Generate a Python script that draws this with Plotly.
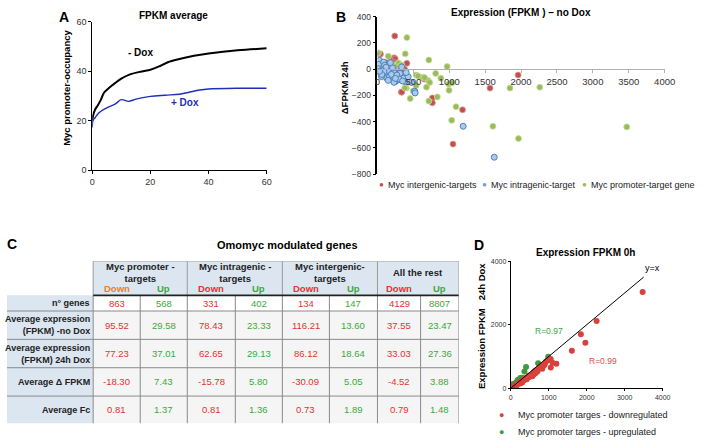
import plotly.graph_objects as go

W, H = 709, 448
FONT = "Arial, Liberation Sans, sans-serif"

# ---------------- Panel A data ----------------
a_x = [0, 0.3, 1, 2, 3, 4, 5, 7, 10, 13, 17, 20, 23, 26, 30, 35, 40, 50, 60]
a_minus = [20, 22, 24.5, 26.3, 28.5, 31.2, 32.4, 34.4, 37, 38.7, 39.9, 40.6, 41.9, 43.6, 44.9, 46.2, 47.1, 48.4, 49.2]
a_x_plus = [0, 0.3, 1, 2, 3, 5, 8, 10, 12.5, 15, 20, 25, 30, 33, 37, 40, 50, 60]
a_plus = [17.3, 20.2, 21.2, 22.8, 23.8, 25.2, 26.8, 28.5, 27.8, 28.7, 29.8, 30.3, 30.7, 31.4, 32.4, 32.8, 33.1, 33.1]

# ---------------- Panel B data (FPKM no Dox, delta FPKM 24h) ----------------
b_inter_x = [241, 36, 232, 196, 410, 333, 128, 287, 378, 355, 273, 378, 333, 765, 765, 1185, 1052, 1567, 1959, 651,
             41, 246, 223, 337, 346, 150, 90, 180, 300, 260]
b_inter_y = [253, 112, 87, 67, 45, 30, 50, 12, 0, -37, -37, -50, -174, -219, -256, -310, -571, -144, -45, -75,
             116, 79, 54, -175, -7, 40, 20, -30, -20, 5]
b_promo_x = [410, 387, 14, 150, 715, 970, 811, 538, 538, 620, 706, 993, 1038, 997, 683, 834, 715, 456, 497, 401,
             1094, 1034, 1608, 1964, 1845, 2260, 3472, 291, 337, 200, 564, 655, 883, 728, 519, 382, 337, 250, 120, 60]
b_promo_y = [241, 117, 124, 99, 70, 20, -32, -45, -124, -62, -87, -112, -104, -161, -137, -211, -243, -224, -166, -144,
             -286, -390, -435, -529, -144, -137, -440, 47, 30, 42, -52, -64, -69, -101, -180, -143, -57, 20, -20, -60]
b_intra_x = [27, 41, 18, 86, 64, 109, 155, 177, 223, 268, 246, 314, 359, 382, 428, 473, 519, 132, 200, 291,
             337, 41, 100, 10, 55, 75, 140, 165, 195, 230, 270, 300, 350, 400, 120, 90, 60, 30, 250, 210,
             1194, 1627, 524, 180, 150]
b_intra_y = [67, 17, 37, 54, -7, -32, 5, -44, -20, -57, -94, -32, -69, -94, -57, -101, -168, -69, -81, -81,
             17, -32, 30, 5, -55, -30, -10, -60, -40, -100, -45, -75, -90, -25, 15, -20, -40, -15, -70, 10,
             -435, -671, -181, 50, -85]

# ---------------- Panel C data ----------------
c_groups = ["Myc promoter -<br>targets", "Myc intragenic -<br>targets", "Myc intergenic-<br>targets", "All the rest"]
c_sub = ["Down", "Up"]
c_rows = ["n° genes", "Average expression<br>(FPKM) -no Dox", "Average expression<br>(FPKM) 24h Dox",
          "Average Δ FPKM", "Average Fc"]
c_values = [
    ["863", "568", "331", "402", "134", "147", "4129", "8807"],
    ["95.52", "29.58", "78.43", "23.33", "116.21", "13.60", "37.55", "23.47"],
    ["77.23", "37.01", "62.65", "29.13", "86.12", "18.64", "33.03", "27.36"],
    ["-18.30", "7.43", "-15.78", "5.80", "-30.09", "5.05", "-4.52", "3.88"],
    ["0.81", "1.37", "0.81", "1.36", "0.73", "1.89", "0.79", "1.48"],
]

# ---------------- Panel D data (FPKM 0h, FPKM 24h Dox) ----------------
d_down_x = [20, 40, 60, 80, 100, 120, 150, 180, 200, 220, 250, 280, 300, 330, 350, 380, 400, 420, 450, 480,
            500, 540, 570, 600, 650, 700, 720, 760, 800, 830, 880, 930, 970, 1000, 1050, 1053, 1100, 1200,
            1608, 1845, 1964, 2260, 3472, 250, 300, 350, 150, 420, 480, 600, 650, 900]
d_down_y = [15, 30, 45, 60, 75, 95, 110, 140, 150, 170, 200, 220, 230, 270, 280, 300, 320, 330, 360, 390,
            400, 420, 380, 500, 560, 530, 600, 650, 700, 615, 720, 840, 880, 900, 920, 656, 800, 770,
            1180, 1700, 1435, 2120, 3030, 150, 180, 250, 80, 280, 350, 430, 470, 780]
d_up_x = [20, 50, 80, 100, 130, 160, 200, 250, 300, 360, 402, 720, 985, 150, 60, 30, 250, 180]
d_up_y = [30, 70, 110, 140, 170, 200, 240, 280, 330, 530, 667, 790, 995, 180, 130, 60, 320, 260]
d_line = [0, 3500]

# ---------------- helpers ----------------
def px_x(p):
    return p / W

def px_y(p):
    return 1 - p / H

fig = go.Figure()

# Panel A lines
fig.add_trace(go.Scatter(x=a_x, y=a_minus, mode="lines", line=dict(color="black", width=2, shape="spline"),
                         xaxis="x", yaxis="y", showlegend=False, hoverinfo="skip"))
fig.add_trace(go.Scatter(x=a_x_plus, y=a_plus, mode="lines", line=dict(color="#1f2fb5", width=1.4, shape="spline"),
                         xaxis="x", yaxis="y", showlegend=False, hoverinfo="skip"))

# Panel B scatter
fig.add_trace(go.Scatter(x=b_inter_x, y=b_inter_y, mode="markers", xaxis="x2", yaxis="y2", showlegend=False,
                         marker=dict(size=6, color="#c0504d", line=dict(color="#dc9b99", width=0.8))))
fig.add_trace(go.Scatter(x=b_promo_x, y=b_promo_y, mode="markers", xaxis="x2", yaxis="y2", showlegend=False,
                         marker=dict(size=6, color="#9bbb59", line=dict(color="#c7dc9f", width=0.8))))
fig.add_trace(go.Scatter(x=b_intra_x, y=b_intra_y, mode="markers", xaxis="x2", yaxis="y2", showlegend=False,
                         marker=dict(size=6, color="#a9cbeb", line=dict(color="#4f81bd", width=1))))

# Panel D
fig.add_trace(go.Scatter(x=d_up_x, y=d_up_y, mode="markers", xaxis="x3", yaxis="y3", showlegend=False,
                         marker=dict(size=6, color="#3f9a3f")))
fig.add_trace(go.Scatter(x=d_down_x, y=d_down_y, mode="markers", xaxis="x3", yaxis="y3", showlegend=False,
                         marker=dict(size=6, color="#d9413c")))
fig.add_trace(go.Scatter(x=d_line, y=d_line, mode="lines", xaxis="x3", yaxis="y3", showlegend=False,
                         line=dict(color="black", width=1)))

# Table axis (invisible)
fig.add_trace(go.Scatter(x=[0, 461], y=[0, 166], mode="markers", marker=dict(opacity=0), xaxis="x4", yaxis="y4",
                         showlegend=False, hoverinfo="skip"))

tick_font = dict(family=FONT, size=9, color="#333333")
axis_common = dict(showgrid=False, zeroline=False, showline=True, linecolor="black", ticks="outside",
                   ticklen=3, tickcolor="black", tickfont=tick_font)

b_ydom = [px_y(173), px_y(12)]
b_xpos = b_ydom[0] + (800 / 1200) * (b_ydom[1] - b_ydom[0])

fig.update_layout(
    width=W, height=H, margin=dict(l=0, r=0, t=0, b=0),
    paper_bgcolor="white", plot_bgcolor="rgba(0,0,0,0)",
    font=dict(family=FONT, color="black"),
    xaxis=dict(domain=[px_x(91), px_x(269)], range=[0, 60], tickvals=[0, 20, 40, 60], anchor="y",
               **axis_common),
    yaxis=dict(domain=[px_y(169), px_y(17)], range=[0, 60], tickvals=[0, 20, 40, 60], anchor="x",
               **axis_common),
    xaxis2=dict(domain=[px_x(382), px_x(675)], range=[0, 4000], dtick=500, anchor="free", position=b_xpos,
                showgrid=False, zeroline=False, showline=True, linecolor="#b0b0b0", ticks="outside",
                ticklen=3, tickcolor="#b0b0b0", tickfont=dict(family=FONT, size=9.5, color="#333333")),
    yaxis2=dict(domain=b_ydom, range=[-800, 400], dtick=200, anchor="x2",
                showgrid=False, zeroline=False, showline=True, linecolor="black", linewidth=1.5,
                ticks="outside", ticklen=3, tickcolor="black",
                tickfont=dict(family=FONT, size=8.5, color="#333333")),
    xaxis3=dict(domain=[px_x(518), px_x(673)], range=[0, 4000], dtick=1000, anchor="y3",
                showgrid=False, zeroline=False, showline=True, linecolor="black", ticks="outside",
                ticklen=2, tickcolor="black", tickfont=dict(family=FONT, size=7, color="#333333")),
    yaxis3=dict(domain=[px_y(392), px_y(262)], range=[0, 4000], tickvals=[0, 2000, 4000], anchor="x3",
                showgrid=False, zeroline=False, showline=True, linecolor="black", ticks="outside",
                ticklen=2, tickcolor="black", tickfont=dict(family=FONT, size=7, color="#333333")),
    xaxis4=dict(domain=[px_x(4), px_x(465)], range=[0, 461], visible=False, anchor="y4", fixedrange=True),
    yaxis4=dict(domain=[px_y(428), px_y(262)], range=[166, 0], visible=False, anchor="x4", fixedrange=True),
)

ann = []
shapes = []

def paper_text(x, y, text, size, bold=False, color="black", xanchor="center", angle=0):
    t = f"<b>{text}</b>" if bold else text
    ann.append(dict(x=px_x(x), y=px_y(y), xref="paper", yref="paper", text=t, showarrow=False,
                    xanchor=xanchor, yanchor="middle", textangle=angle,
                    font=dict(family=FONT, size=size, color=color)))

# Panel letters and titles
paper_text(62, 12, "A", 14, True)
paper_text(345, 12, "B", 14, True)
paper_text(9, 244, "C", 14, True)
paper_text(486, 245, "D", 14, True)
paper_text(174, 11, "FPKM average", 10, True)
paper_text(528, 8, "Expression (FPKM ) – no Dox", 10, True)
paper_text(290, 245, "Omomyc modulated genes", 11, True)
paper_text(594, 253, "Expression FPKM 0h", 10, True)

# Axis titles
paper_text(64, 85, "Myc promoter-occupancy", 9.5, True, angle=-90)
paper_text(348, 85, "ΔFPKM 24h", 9.5, True, angle=-90)
paper_text(488, 328, "Expression FPKM   24h Dox", 9.5, True, angle=-90)

# Panel A line labels
ann.append(dict(x=16.5, y=47.5, xref="x", yref="y", text="<b>- Dox</b>", showarrow=False,
                font=dict(family=FONT, size=10, color="black")))
ann.append(dict(x=32, y=27.4, xref="x", yref="y", text="<b>+ Dox</b>", showarrow=False,
                font=dict(family=FONT, size=10, color="#1f2fb5")))

# Panel B legend
b_leg = [("#c0504d", "Myc intergenic-targets", 386), ("#6fa0d8", "Myc intragenic-target", 491),
         ("#9bbb59", "Myc promoter-target gene", 593)]
for col, txt, xp in b_leg:
    paper_text(xp, 184, "●", 8, color=col)
    paper_text(xp + 5, 184, txt, 9, xanchor="left", color="#222222")

# Panel D annotations
ann.append(dict(x=3720, y=3800, xref="x3", yref="y3", text="y=x", showarrow=False,
                font=dict(family=FONT, size=9, color="black")))
ann.append(dict(x=1000, y=1795, xref="x3", yref="y3", text="R=0.97", showarrow=False,
                font=dict(family=FONT, size=8.5, color="#3aa84a")))
ann.append(dict(x=2430, y=870, xref="x3", yref="y3", text="R=0.99", showarrow=False,
                font=dict(family=FONT, size=8.5, color="#e84a4a")))
paper_text(509, 419, "●", 9, color="#d9413c")
paper_text(523, 419, "Myc promoter targes - downregulated", 9, xanchor="left", color="#222222")
paper_text(509, 437, "●", 9, color="#3f9a3f")
paper_text(523, 437, "Myc promoter targes - upregulated", 9, xanchor="left", color="#222222")

# ---------------- Table (panel C) on x4/y4 ----------------
col_edges = [0, 88, 136, 184, 233, 281, 329, 378, 422, 461]
row_edges = [0, 35, 51, 80, 109, 138, 166]
hdr_bg = "#dce6f1"
cell_bg = "#f5f5f5"
grid = "#8a8a8a"

def rect(x0, y0, x1, y1, fill):
    shapes.append(dict(type="rect", xref="x4", yref="y4", x0=x0, y0=y0, x1=x1, y1=y1,
                       fillcolor=fill, line=dict(width=0), layer="below"))

def line(x0, y0, x1, y1, color=grid, width=1):
    shapes.append(dict(type="line", xref="x4", yref="y4", x0=x0, y0=y0, x1=x1, y1=y1,
                       line=dict(color=color, width=width)))

rect(col_edges[1], row_edges[0], col_edges[-1], row_edges[1], hdr_bg)
rect(col_edges[0], row_edges[1], col_edges[1], row_edges[-1], hdr_bg)
for r in range(len(c_rows)):
    rect(col_edges[1], row_edges[r + 1], col_edges[-1], row_edges[r + 2], "white" if r == 0 else cell_bg)

# header group separators
for gi in range(len(c_groups) + 1):
    xe = col_edges[1 + 2 * gi]
    line(xe, row_edges[0], xe, row_edges[1], color="#9a9a9a")
line(col_edges[1], row_edges[0], col_edges[-1], row_edges[0], color="#9a9a9a")
# data vertical lines
for xe in col_edges[1:]:
    line(xe, row_edges[1], xe, row_edges[-1])
# horizontal lines
for ye in row_edges[2:-1]:
    line(col_edges[0], ye, col_edges[-1], ye)
line(col_edges[1], row_edges[1], col_edges[-1], row_edges[1], color="#222222", width=1.6)

red = "#e8302f"
green = "#3aaa3a"
orange = "#f07b1d"

for gi, g in enumerate(c_groups):
    xc = (col_edges[1 + 2 * gi] + col_edges[3 + 2 * gi]) / 2
    ann.append(dict(x=xc, y=12, xref="x4", yref="y4", text=f"<b>{g}</b>", showarrow=False,
                    font=dict(family=FONT, size=9.5, color="#222222"), yanchor="middle"))
    for si, s in enumerate(c_sub):
        ci = 1 + 2 * gi + si
        xs = (col_edges[ci] + col_edges[ci + 1]) / 2
        col = green if s == "Up" else (orange if gi == 0 else red)
        ann.append(dict(x=xs, y=27.5, xref="x4", yref="y4", text=f"<b>{s}</b>", showarrow=False,
                        font=dict(family=FONT, size=9.5, color=col), yanchor="middle"))

for r, lab in enumerate(c_rows):
    yc = (row_edges[r + 1] + row_edges[r + 2]) / 2
    ann.append(dict(x=col_edges[1] - 1, y=yc, xref="x4", yref="y4", text=f"<b>{lab}</b>", showarrow=False,
                    xanchor="right", yanchor="middle", align="right",
                    font=dict(family=FONT, size=9, color="#222222")))
    for c, v in enumerate(c_values[r]):
        xs = (col_edges[c + 1] + col_edges[c + 2]) / 2
        ann.append(dict(x=xs, y=yc, xref="x4", yref="y4", text=v, showarrow=False, yanchor="middle",
                        font=dict(family=FONT, size=9.5, color=red if c % 2 == 0 else green)))

fig.update_layout(annotations=ann, shapes=shapes)
fig.write_html("out.html", config={"displayModeBar": False},
               post_script="document.body.style.margin='0px';document.body.style.overflow='hidden';")
